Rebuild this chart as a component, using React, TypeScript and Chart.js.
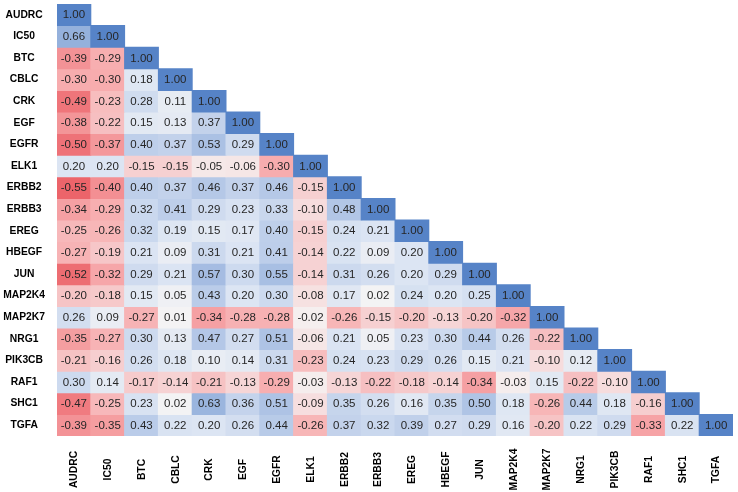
import React, { useEffect, useRef } from "react";
import { Chart, registerables } from "chart.js";
Chart.register(...registerables);

const variables = ["AUDRC", "IC50", "BTC", "CBLC", "CRK", "EGF", "EGFR", "ELK1", "ERBB2", "ERBB3", "EREG", "HBEGF", "JUN", "MAP2K4", "MAP2K7", "NRG1", "PIK3CB", "RAF1", "SHC1", "TGFA"];

const rowAUDRC = [1.0];
const rowIC50 = [0.66, 1.0];
const rowBTC = [-0.39, -0.29, 1.0];
const rowCBLC = [-0.3, -0.3, 0.18, 1.0];
const rowCRK = [-0.49, -0.23, 0.28, 0.11, 1.0];
const rowEGF = [-0.38, -0.22, 0.15, 0.13, 0.37, 1.0];
const rowEGFR = [-0.5, -0.37, 0.4, 0.37, 0.53, 0.29, 1.0];
const rowELK1 = [0.2, 0.2, -0.15, -0.15, -0.05, -0.06, -0.3, 1.0];
const rowERBB2 = [-0.55, -0.4, 0.4, 0.37, 0.46, 0.37, 0.46, -0.15, 1.0];
const rowERBB3 = [-0.34, -0.29, 0.32, 0.41, 0.29, 0.23, 0.33, -0.1, 0.48, 1.0];
const rowEREG = [-0.25, -0.26, 0.32, 0.19, 0.15, 0.17, 0.4, -0.15, 0.24, 0.21, 1.0];
const rowHBEGF = [-0.27, -0.19, 0.21, 0.09, 0.31, 0.21, 0.41, -0.14, 0.22, 0.09, 0.2, 1.0];
const rowJUN = [-0.52, -0.32, 0.29, 0.21, 0.57, 0.3, 0.55, -0.14, 0.31, 0.26, 0.2, 0.29, 1.0];
const rowMAP2K4 = [-0.2, -0.18, 0.15, 0.05, 0.43, 0.2, 0.3, -0.08, 0.17, 0.02, 0.24, 0.2, 0.25, 1.0];
const rowMAP2K7 = [0.26, 0.09, -0.27, 0.01, -0.34, -0.28, -0.28, -0.02, -0.26, -0.15, -0.2, -0.13, -0.2, -0.32, 1.0];
const rowNRG1 = [-0.35, -0.27, 0.3, 0.13, 0.47, 0.27, 0.51, -0.06, 0.21, 0.05, 0.23, 0.3, 0.44, 0.26, -0.22, 1.0];
const rowPIK3CB = [-0.21, -0.16, 0.26, 0.18, 0.1, 0.14, 0.31, -0.23, 0.24, 0.23, 0.29, 0.26, 0.15, 0.21, -0.1, 0.12, 1.0];
const rowRAF1 = [0.3, 0.14, -0.17, -0.14, -0.21, -0.13, -0.29, -0.03, -0.13, -0.22, -0.18, -0.14, -0.34, -0.03, 0.15, -0.22, -0.1, 1.0];
const rowSHC1 = [-0.47, -0.25, 0.23, 0.02, 0.63, 0.36, 0.51, -0.09, 0.35, 0.26, 0.16, 0.35, 0.5, 0.18, -0.26, 0.44, 0.18, -0.16, 1.0];
const rowTGFA = [-0.39, -0.35, 0.43, 0.22, 0.2, 0.26, 0.44, -0.26, 0.37, 0.32, 0.39, 0.27, 0.29, 0.16, -0.2, 0.22, 0.29, -0.33, 0.22, 1.0];

const rows = [rowAUDRC, rowIC50, rowBTC, rowCBLC, rowCRK, rowEGF, rowEGFR, rowELK1, rowERBB2, rowERBB3, rowEREG, rowHBEGF, rowJUN, rowMAP2K4, rowMAP2K7, rowNRG1, rowPIK3CB, rowRAF1, rowSHC1, rowTGFA];

// colour scale stops (value -> rgb)
const colorStopValues = [-0.55, -0.3, 0, 0.2, 0.4, 0.6, 1.0];
const colorStopRgb = [
  [236, 100, 106],
  [247, 172, 174],
  [245, 244, 244],
  [220, 229, 243],
  [190, 207, 234],
  [160, 185, 224],
  [86, 131, 199],
];

function colorFor(v: number): string {
  const sv = colorStopValues;
  if (v <= sv[0]) return `rgb(${colorStopRgb[0].join(",")})`;
  if (v >= sv[sv.length - 1]) return `rgb(${colorStopRgb[sv.length - 1].join(",")})`;
  let i = 0;
  while (i < sv.length - 1 && v > sv[i + 1]) i++;
  const t = (v - sv[i]) / (sv[i + 1] - sv[i]);
  const a = colorStopRgb[i];
  const b = colorStopRgb[i + 1];
  const c = a.map((x, k) => Math.round(x + (b[k] - x) * t));
  return `rgb(${c[0]},${c[1]},${c[2]})`;
}

const FONT = "'Liberation Sans', Arial, sans-serif";

const labelPlugin = {
  id: "cellLabels",
  afterDatasetsDraw(chart: any) {
    const ctx = chart.ctx;
    ctx.save();
    ctx.font = `11.5px ${FONT}`;
    ctx.fillStyle = "#262626";
    ctx.textAlign = "center";
    ctx.textBaseline = "middle";
    rows.forEach((row, r) => {
      const meta = chart.getDatasetMeta(r);
      row.forEach((v, c) => {
        const el = meta.data[c];
        if (!el) return;
        const p = el.getCenterPoint();
        ctx.fillText(v.toFixed(2), p.x, p.y + 0.5);
      });
    });
    // column labels, rotated, centred vertically in the x-axis band
    const xs = chart.scales.x;
    ctx.font = `bold 10.3px ${FONT}`;
    ctx.fillStyle = "#000000";
    const cy = 469.5;
    variables.forEach((name, i) => {
      const px = xs.getPixelForTick(i);
      ctx.save();
      ctx.translate(px + 0.5, cy);
      ctx.rotate(-Math.PI / 2);
      ctx.textAlign = "center";
      ctx.textBaseline = "middle";
      ctx.fillText(name, 0, 0);
      ctx.restore();
    });
    ctx.restore();
  },
};

export default function App() {
  const ref = useRef<HTMLCanvasElement | null>(null);
  useEffect(() => {
    if (!ref.current) return;
    const datasets = rows.map((row, r) => ({
      label: variables[r],
      data: variables.map((_, c) => (c < row.length ? [r, r + 1] : null)),
      backgroundColor: variables.map((_, c) => (c < row.length ? colorFor(row[c]) : "rgba(0,0,0,0)")),
      borderWidth: 0,
      inflateAmount: 0.5,
      grouped: false,
      barPercentage: 1,
      categoryPercentage: 1,
    }));
    const chart = new Chart(ref.current, {
      type: "bar",
      data: { labels: variables, datasets: datasets as any },
      options: {
        animation: false,
        responsive: false,
        maintainAspectRatio: false,
        layout: { padding: { left: 0, right: 5, top: 4, bottom: 0 } },
        plugins: {
          legend: { display: false },
          tooltip: { enabled: false },
        },
        scales: {
          x: {
            type: "category",
            grid: { display: false, drawTicks: false },
            border: { display: false },
            ticks: { display: false },
            afterFit: (s: any) => {
              s.height = 56;
              s.paddingLeft = 0;
              s.paddingRight = 0;
            },
          },
          y: {
            type: "linear",
            min: 0,
            max: 20,
            reverse: true,
            grid: { display: false, drawTicks: false },
            border: { display: false },
            afterBuildTicks: (s: any) => {
              s.ticks = variables.map((_, i) => ({ value: i + 0.5 }));
            },
            ticks: {
              autoSkip: false,
              crossAlign: "center",
              padding: 12,
              color: "#000000",
              font: { family: FONT, size: 10.3, weight: "bold" },
              callback: (_v: any, i: number) => variables[i],
            },
            afterFit: (s: any) => {
              s.width = 57;
              s.paddingTop = 0;
              s.paddingBottom = 0;
            },
          },
        },
      },
      plugins: [labelPlugin],
    });
    return () => chart.destroy();
  }, []);
  return (
    <div style={{ position: "fixed", left: 0, top: 0, width: 738, height: 492, background: "#ffffff" }}>
      <canvas ref={ref} width={738} height={492} style={{ display: "block" }} />
    </div>
  );
}
